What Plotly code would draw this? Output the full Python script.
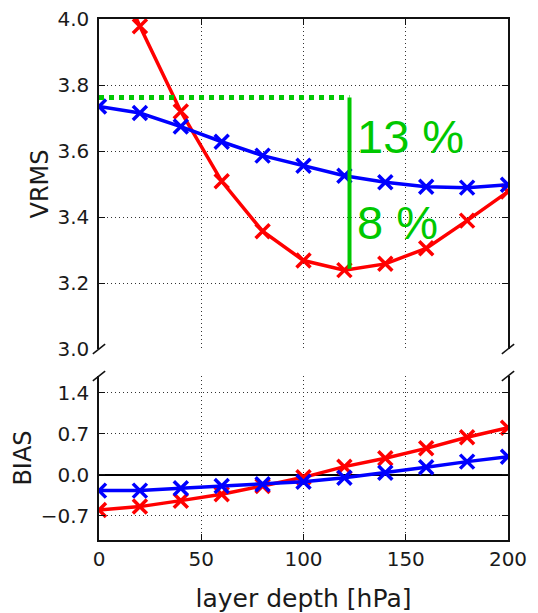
import plotly.graph_objects as go

depth = [0, 20, 40, 60, 80, 100, 120, 140, 160, 180, 200]
vrms_red = [4.25, 3.978, 3.720, 3.508, 3.357, 3.268, 3.239, 3.258, 3.305, 3.389, 3.477]
vrms_blue = [3.735, 3.715, 3.674, 3.628, 3.586, 3.555, 3.525, 3.505, 3.492, 3.489, 3.498]
bias_red = [-0.598, -0.54, -0.438, -0.33, -0.188, -0.04, 0.142, 0.285, 0.455, 0.643, 0.808]
bias_blue = [-0.267, -0.267, -0.228, -0.188, -0.16, -0.114, -0.046, 0.04, 0.131, 0.228, 0.313]

ref_level = 3.762
ref_x = 122.5
ref_low = 3.243
labels_pct = ["13 %", "8 %"]
label_y = [3.645, 3.383]

vrms_ticks = [3.0, 3.2, 3.4, 3.6, 3.8, 4.0]
bias_ticks = [-0.7, 0.0, 0.7, 1.4]
x_ticks = [0, 50, 100, 150, 200]

RED = "#ff0000"
BLUE = "#0000ff"
GREEN = "#00c800"
TXT = "#1a1a1a"
FONT = "DejaVu Sans"

fig = go.Figure()

def add_series(x, y, color, xa, ya):
    fig.add_trace(go.Scatter(
        x=x, y=y, mode="lines+markers", xaxis=xa, yaxis=ya,
        line=dict(color=color, width=3.5),
        marker=dict(symbol="x-thin", size=14, color=color,
                    line=dict(color=color, width=3.5)),
        showlegend=False, cliponaxis=True))

add_series(depth, vrms_red, RED, "x", "y")
add_series(depth, vrms_blue, BLUE, "x", "y")

# green reference lines
fig.add_trace(go.Scatter(x=[0, ref_x], y=[ref_level, ref_level], mode="lines",
                         xaxis="x", yaxis="y", showlegend=False,
                         line=dict(color=GREEN, width=5, dash="dot")))
fig.add_trace(go.Scatter(x=[ref_x, ref_x], y=[ref_level, ref_low], mode="lines",
                         xaxis="x", yaxis="y", showlegend=False,
                         line=dict(color=GREEN, width=4)))

add_series(depth, bias_red, RED, "x2", "y2")
add_series(depth, bias_blue, BLUE, "x2", "y2")

for t, yy in zip(labels_pct, label_y):
    fig.add_annotation(x=ref_x + 2.5, y=yy, xref="x", yref="y", text=t,
                       showarrow=False, xanchor="left", yanchor="middle",
                       font=dict(family="Liberation Sans", size=47, color=GREEN))

grid = dict(showgrid=True, gridcolor="#333333", gridwidth=1, griddash="1px,3px")
axline = dict(showline=True, linecolor="#111111", linewidth=1.5, automargin=False)
tickf = dict(family=FONT, size=20, color=TXT)

fig.update_layout(
    width=538, height=613,
    margin=dict(l=99, r=30, t=19, b=73),
    plot_bgcolor="white", paper_bgcolor="white",
    xaxis=dict(domain=[0, 1], range=[0, 200], anchor="y", side="top",
               tickvals=x_ticks, showticklabels=False, ticks="inside", ticklen=6,
               tickcolor="#111111", zeroline=False, **grid, **axline),
    yaxis=dict(domain=[0.3666, 1], range=[3.0, 4.0], anchor="x",
               tickvals=vrms_ticks, tickformat=".1f", ticks="inside", ticklen=6,
               tickcolor="#111111", mirror="ticks", zeroline=False,
               tickfont=tickf, ticklabelstandoff=4,
               title=dict(text="VRMS", font=dict(family=FONT, size=24, color=TXT), standoff=2),
               **grid, **axline),
    xaxis2=dict(domain=[0, 1], range=[0, 200], anchor="y2", matches="x",
                tickvals=x_ticks, ticks="inside", ticklen=6, tickcolor="#111111",
                zeroline=False, tickfont=tickf,
                title=dict(text="layer depth [hPa]", font=dict(family=FONT, size=25, color=TXT), standoff=20),
                **grid, **axline),
    yaxis2=dict(domain=[0, 0.3148], range=[-1.11, 1.69], anchor="x2",
                tickvals=bias_ticks, tickformat=".1f", ticks="inside", ticklen=6,
                tickcolor="#111111", mirror="ticks",
                zeroline=True, zerolinecolor="#000000", zerolinewidth=2,
                tickfont=tickf, ticklabelstandoff=4,
                title=dict(text="BIAS", font=dict(family=FONT, size=24, color=TXT), standoff=2),
                **grid, **axline),
)

# broken-axis diagonal marks
d = 0.015
for xr, yr, y0, k in [("x domain", "y domain", 0, 1.0), ("x2 domain", "y2 domain", 1, 2.0)]:
    for xc in (0, 1):
        fig.add_shape(type="line", xref=xr, yref=yr,
                      x0=xc - d, x1=xc + d, y0=y0 - d * k, y1=y0 + d * k,
                      line=dict(color="#111111", width=1.5))

fig.write_html("out.html")
